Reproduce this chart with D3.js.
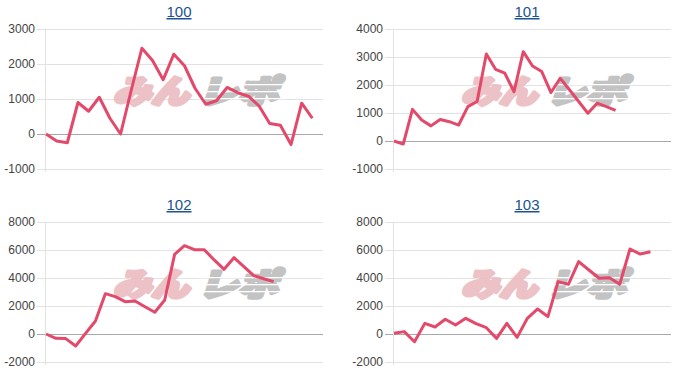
<!DOCTYPE html>
<html>
<head>
<meta charset="utf-8">
<script src="https://cdn.jsdelivr.net/npm/d3@7"></script>
<style>
  body { margin: 0; background: #fff; }
  svg { display: block; }
</style>
</head>
<body>
<svg id="chart" width="700" height="386"></svg>
<script>
// machine numbers shown as the panel titles
var machines = ["100", "101", "102", "103"];

// slump values (medals), one per day
var slump100 = [0, -200, -250, 900, 650, 1050, 450, 0, 1250, 2450, 2100, 1550, 2280, 1950,
    1300, 850, 950, 1330, 1180, 1080, 800, 300, 250, -300, 880, 450];
var slump101 = [0, -110, 1130, 750, 540, 770, 690, 570, 1230, 1410, 3110, 2560, 2420, 1760,
    3190, 2680, 2480, 1730, 2240, 1830, 1410, 990, 1350, 1230, 1090];
var slump102 = [0, -310, -330, -860, 40, 930, 2880, 2670, 2310, 2360, 1950, 1550, 2430, 5690,
    6310, 6020, 6020, 5290, 4620, 5450, 4810, 4170, 3950, 3740];
var slump103 = [50, 170, -550, 760, 500, 1050, 640, 1120, 740, 450, -310, 760, -240, 1120,
    1790, 1240, 3740, 3550, 5170, 4570, 3980, 4020, 3550, 6070, 5710, 5880];

var series = [slump100, slump101, slump102, slump103];
var xSpans = [26, 30, 28, 27];
var yDomains = [[-1000, 3000], [-1000, 4000], [-2000, 8000], [-2000, 8000]];
var yTicks = [
    [-1000, 0, 1000, 2000, 3000],
    [-1000, 0, 1000, 2000, 3000, 4000],
    [-2000, 0, 2000, 4000, 6000, 8000],
    [-2000, 0, 2000, 4000, 6000, 8000]
];

var svg = d3.select("#chart");
var plotLeft = 45, plotRight = 323, plotTop = 29, plotBottom = 169;

machines.forEach(function(name, i) {
    var ox = (i % 2) * 348,
        oy = Math.floor(i / 2) * 193;

    var g = svg.append("g").attr("transform", "translate(" + ox + "," + oy + ")");

    var x = d3.scaleLinear().domain([0, xSpans[i]]).range([plotLeft + 1, plotRight]);
    var y = d3.scaleLinear().domain(yDomains[i]).range([plotBottom, plotTop]);

    // title (link style)
    g.append("text")
        .attr("x", 179)
        .attr("y", 17)
        .attr("text-anchor", "middle")
        .attr("font-family", "Arial, 'Liberation Sans', sans-serif")
        .attr("font-size", 15)
        .attr("fill", "#1c5390")
        .attr("text-decoration", "underline")
        .text(name);

    // gridlines
    g.append("g")
        .selectAll("line")
        .data(yTicks[i])
        .enter().append("line")
        .attr("x1", 37)
        .attr("x2", plotRight)
        .attr("y1", function(d) { return Math.round(y(d)) + 0.5; })
        .attr("y2", function(d) { return Math.round(y(d)) + 0.5; })
        .attr("stroke", function(d) { return d === 0 ? "#a8a8a8" : "#e2e2e2"; })
        .attr("stroke-width", 1);

    // vertical axis line
    g.append("line")
        .attr("x1", plotLeft + 0.5)
        .attr("x2", plotLeft + 0.5)
        .attr("y1", plotTop)
        .attr("y2", plotBottom + 3)
        .attr("stroke", "#e2e2e2");

    // tick labels
    g.append("g")
        .selectAll("text")
        .data(yTicks[i])
        .enter().append("text")
        .attr("x", 35)
        .attr("y", function(d) { return y(d) + 4; })
        .attr("text-anchor", "end")
        .attr("font-family", "Arial, 'Liberation Sans', sans-serif")
        .attr("font-size", 12)
        .attr("fill", "#444")
        .text(function(d) { return d; });

    // watermark
    var wm = g.append("g").attr("opacity", 0.9);
    wm.append("text")
        .attr("x", 113)
        .attr("y", 103)
        .attr("font-family", "'Noto Sans CJK JP', sans-serif")
        .attr("font-weight", "900")
        .attr("font-style", "italic")
        .attr("font-size", 32)
        .attr("textLength", 76)
        .attr("lengthAdjust", "spacingAndGlyphs")
        .attr("fill", "#ebbcc0")
        .attr("stroke", "#ebbcc0")
        .attr("stroke-width", 3.5)
        .attr("stroke-linejoin", "round")
        .text("みん");
    wm.append("text")
        .attr("x", 198)
        .attr("y", 103)
        .attr("font-family", "'Noto Sans CJK JP', sans-serif")
        .attr("font-weight", "900")
        .attr("font-style", "italic")
        .attr("font-size", 32)
        .attr("textLength", 80)
        .attr("lengthAdjust", "spacingAndGlyphs")
        .attr("fill", "#bdbdbd")
        .attr("stroke", "#bdbdbd")
        .attr("stroke-width", 3.5)
        .attr("stroke-linejoin", "round")
        .text("レポ");
    wm.append("g")
        .selectAll("rect")
        .data([84, 91, 98])
        .enter().append("rect")
        .attr("x", 198)
        .attr("y", function(d) { return d; })
        .attr("width", 86)
        .attr("height", 1.3)
        .attr("fill", "#fff");

    // slump line
    var line = d3.line()
        .x(function(d, j) { return x(j); })
        .y(function(d) { return y(d); });

    g.append("path")
        .datum(series[i])
        .attr("d", line)
        .attr("fill", "none")
        .attr("stroke", "#e2496a")
        .attr("stroke-width", 3)
        .attr("stroke-linejoin", "round");
});
</script>
</body>
</html>
